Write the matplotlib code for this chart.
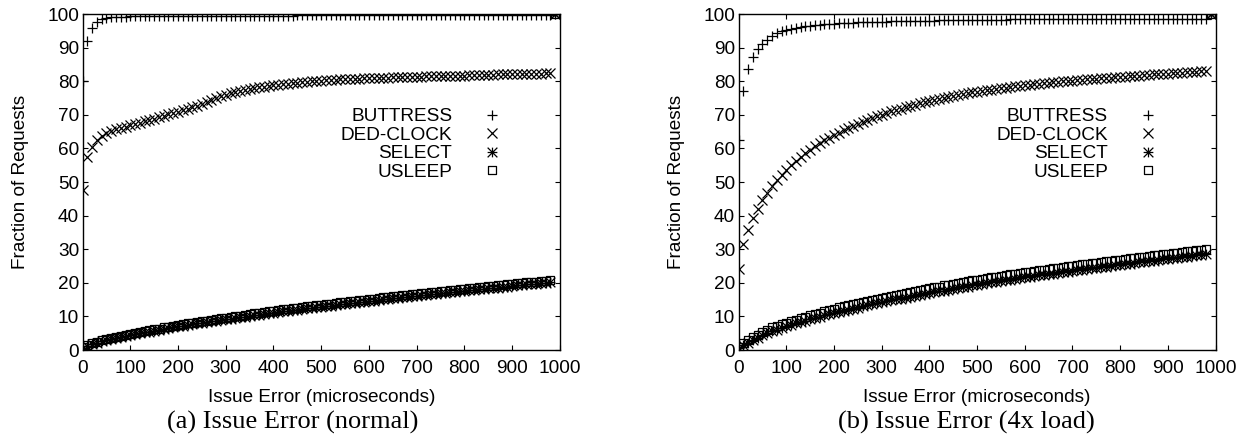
import matplotlib
matplotlib.use('Agg')
import matplotlib.pyplot as plt
from matplotlib.path import Path

plt.rcParams['font.family'] = ['Liberation Sans', 'DejaVu Sans']

# issue error bins (microseconds); last bin holds everything beyond
x_err = list(range(0, 1000, 10))

names = ['BUTTRESS', 'DED-CLOCK', 'SELECT', 'USLEEP']

# (a) normal load
a_buttress = [80.0, 92.0, 95.8, 97.5, 98.4, 98.8, 99.0, 99.1, 99.2, 99.2,
              99.3, 99.3, 99.3, 99.3, 99.4, 99.4, 99.4, 99.4, 99.4, 99.4,
              99.5, 99.5, 99.5, 99.5, 99.5, 99.5, 99.5, 99.5, 99.5, 99.5,
              99.5, 99.5, 99.5, 99.5, 99.5, 99.5, 99.5, 99.5, 99.5, 99.5,
              99.5, 99.5, 99.5, 99.5, 99.5, 99.6, 99.6, 99.6, 99.6, 99.6,
              99.6, 99.6, 99.6, 99.6, 99.6, 99.6, 99.6, 99.6, 99.6, 99.6,
              99.6, 99.6, 99.6, 99.6, 99.6, 99.6, 99.6, 99.6, 99.6, 99.6,
              99.6, 99.6, 99.6, 99.6, 99.6, 99.7, 99.7, 99.7, 99.7, 99.7,
              99.7, 99.7, 99.7, 99.7, 99.7, 99.7, 99.7, 99.7, 99.7, 99.7,
              99.7, 99.7, 99.7, 99.7, 99.7, 99.7, 99.7, 99.7, 99.7, 100.0]
a_dedclock = [47.5, 57.5, 60.5, 62.5, 63.8, 64.6, 65.2, 65.7, 66.1, 66.5,
              66.9, 67.3, 67.7, 68.1, 68.5, 68.9, 69.3, 69.7, 70.1, 70.5,
              70.9, 71.3, 71.7, 72.2, 72.7, 73.2, 73.8, 74.4, 75.0, 75.5,
              76.0, 76.4, 76.8, 77.1, 77.4, 77.7, 78.0, 78.2, 78.4, 78.6,
              78.8, 79.0, 79.2, 79.3, 79.5, 79.6, 79.8, 79.9, 80.0, 80.1,
              80.2, 80.3, 80.4, 80.5, 80.6, 80.6, 80.7, 80.8, 80.8, 80.9,
              80.9, 81.0, 81.0, 81.1, 81.1, 81.2, 81.2, 81.3, 81.3, 81.4,
              81.4, 81.4, 81.5, 81.5, 81.5, 81.6, 81.6, 81.6, 81.7, 81.7,
              81.7, 81.8, 81.8, 81.8, 81.9, 81.9, 81.9, 82.0, 82.0, 82.0,
              82.0, 82.1, 82.1, 82.1, 82.2, 82.2, 82.2, 82.3, 82.3, 100.0]
a_select = [0.5, 1.2, 1.7, 2.2, 2.6, 3.0, 3.3, 3.6, 3.9, 4.2,
            4.5, 4.8, 5.0, 5.3, 5.5, 5.8, 6.0, 6.3, 6.5, 6.8,
            7.0, 7.2, 7.4, 7.6, 7.9, 8.1, 8.3, 8.5, 8.7, 8.9,
            9.1, 9.3, 9.5, 9.7, 9.9, 10.1, 10.3, 10.5, 10.7, 10.9,
            11.1, 11.3, 11.5, 11.6, 11.8, 12.0, 12.2, 12.4, 12.5, 12.7,
            12.9, 13.1, 13.2, 13.4, 13.6, 13.7, 13.9, 14.1, 14.3, 14.4,
            14.6, 14.7, 14.9, 15.1, 15.2, 15.4, 15.5, 15.7, 15.9, 16.0,
            16.2, 16.3, 16.5, 16.6, 16.8, 16.9, 17.1, 17.2, 17.4, 17.5,
            17.7, 17.8, 17.9, 18.1, 18.2, 18.4, 18.5, 18.6, 18.8, 18.9,
            19.1, 19.2, 19.3, 19.5, 19.6, 19.7, 19.9, 20.0, 20.2, 100.0]
a_usleep = [0.8, 1.5, 2.0, 2.5, 2.9, 3.3, 3.6, 3.9, 4.2, 4.5,
            4.8, 5.1, 5.4, 5.6, 5.9, 6.2, 6.4, 6.7, 6.9, 7.2,
            7.4, 7.6, 7.9, 8.1, 8.3, 8.5, 8.7, 9.0, 9.2, 9.4,
            9.6, 9.8, 10.0, 10.2, 10.5, 10.7, 10.9, 11.1, 11.3, 11.5,
            11.7, 11.9, 12.1, 12.2, 12.4, 12.6, 12.8, 13.0, 13.1, 13.3,
            13.5, 13.7, 13.8, 14.0, 14.2, 14.3, 14.5, 14.7, 14.9, 15.0,
            15.2, 15.3, 15.5, 15.7, 15.8, 16.0, 16.1, 16.3, 16.5, 16.6,
            16.8, 16.9, 17.1, 17.2, 17.4, 17.5, 17.7, 17.8, 18.0, 18.1,
            18.3, 18.4, 18.5, 18.7, 18.8, 19.0, 19.1, 19.2, 19.4, 19.5,
            19.7, 19.8, 19.9, 20.1, 20.2, 20.3, 20.5, 20.6, 20.8, 100.0]

# (b) 4x load
b_buttress = [62.5, 77.2, 83.5, 87.2, 89.5, 91.2, 92.4, 93.5, 94.3, 94.9,
              95.3, 95.6, 95.9, 96.1, 96.3, 96.5, 96.6, 96.8, 96.9, 97.0,
              97.1, 97.2, 97.3, 97.3, 97.4, 97.5, 97.5, 97.6, 97.6, 97.7,
              97.7, 97.7, 97.8, 97.8, 97.8, 97.9, 97.9, 97.9, 98.0, 98.0,
              98.0, 98.0, 98.1, 98.1, 98.1, 98.1, 98.2, 98.2, 98.2, 98.2,
              98.2, 98.3, 98.3, 98.3, 98.3, 98.3, 98.3, 98.4, 98.4, 98.4,
              98.4, 98.4, 98.4, 98.4, 98.4, 98.5, 98.5, 98.5, 98.5, 98.5,
              98.5, 98.5, 98.5, 98.5, 98.5, 98.5, 98.5, 98.5, 98.5, 98.5,
              98.5, 98.5, 98.5, 98.5, 98.5, 98.6, 98.6, 98.6, 98.6, 98.6,
              98.6, 98.6, 98.6, 98.6, 98.6, 98.6, 98.6, 98.6, 98.6, 100.0]
b_dedclock = [24.0, 31.5, 35.7, 39.3, 42.0, 44.5, 46.7, 48.7, 50.5, 52.1,
              53.6, 55.0, 56.3, 57.5, 58.6, 59.6, 60.6, 61.5, 62.4, 63.2,
              64.0, 64.7, 65.4, 66.1, 66.7, 67.3, 67.9, 68.5, 69.0, 69.5,
              70.0, 70.5, 71.0, 71.4, 71.8, 72.2, 72.6, 73.0, 73.4, 73.8,
              74.1, 74.4, 74.7, 75.0, 75.3, 75.6, 75.9, 76.2, 76.4, 76.7,
              76.9, 77.1, 77.3, 77.5, 77.7, 77.9, 78.1, 78.3, 78.5, 78.7,
              78.8, 79.0, 79.1, 79.3, 79.4, 79.6, 79.7, 79.8, 80.0, 80.1,
              80.2, 80.3, 80.5, 80.6, 80.7, 80.8, 80.9, 81.0, 81.1, 81.2,
              81.3, 81.4, 81.5, 81.6, 81.7, 81.8, 81.9, 82.0, 82.0, 82.1,
              82.2, 82.3, 82.4, 82.5, 82.6, 82.7, 82.8, 82.9, 83.0, 100.0]
b_select = [0.5, 1.4, 2.2, 3.0, 3.7, 4.4, 5.0, 5.6, 6.1, 6.6,
            7.0, 7.4, 7.9, 8.3, 8.7, 9.1, 9.5, 9.9, 10.3, 10.6,
            11.0, 11.3, 11.7, 12.0, 12.3, 12.6, 13.0, 13.3, 13.6, 13.9,
            14.2, 14.5, 14.8, 15.1, 15.3, 15.6, 15.9, 16.2, 16.4, 16.7,
            17.0, 17.2, 17.5, 17.7, 18.0, 18.2, 18.4, 18.7, 18.9, 19.2,
            19.4, 19.6, 19.8, 20.1, 20.3, 20.5, 20.7, 20.9, 21.2, 21.4,
            21.6, 21.8, 22.0, 22.2, 22.4, 22.6, 22.7, 22.9, 23.1, 23.3,
            23.5, 23.7, 23.9, 24.1, 24.3, 24.4, 24.6, 24.8, 25.0, 25.2,
            25.3, 25.5, 25.7, 25.9, 26.1, 26.3, 26.4, 26.6, 26.8, 27.0,
            27.1, 27.3, 27.5, 27.7, 27.8, 28.0, 28.2, 28.3, 28.5, 100.0]
b_usleep = [1.0, 2.0, 2.9, 3.8, 4.6, 5.3, 6.0, 6.7, 7.2, 7.6,
            8.0, 8.5, 9.0, 9.4, 9.9, 10.3, 10.7, 11.1, 11.5, 11.9,
            12.3, 12.7, 13.0, 13.4, 13.7, 14.0, 14.3, 14.7, 15.0, 15.3,
            15.6, 15.9, 16.2, 16.5, 16.8, 17.0, 17.3, 17.6, 17.9, 18.1,
            18.4, 18.7, 18.9, 19.2, 19.4, 19.7, 19.9, 20.2, 20.4, 20.7,
            20.9, 21.1, 21.4, 21.6, 21.8, 22.0, 22.2, 22.5, 22.7, 22.9,
            23.1, 23.3, 23.5, 23.7, 23.9, 24.1, 24.3, 24.5, 24.7, 24.9,
            25.1, 25.3, 25.5, 25.7, 25.8, 26.0, 26.2, 26.4, 26.6, 26.7,
            26.9, 27.1, 27.3, 27.5, 27.6, 27.8, 28.0, 28.2, 28.3, 28.5,
            28.7, 28.9, 29.0, 29.2, 29.4, 29.5, 29.7, 29.9, 30.1, 100.0]

# gnuplot style point types: +, x, * (plus and x), box with a dot
M, L, C = Path.MOVETO, Path.LINETO, Path.CLOSEPOLY
star = Path([(-1, 0), (1, 0), (0, -1), (0, 1), (-1, -1), (1, 1), (-1, 1), (1, -1)],
            [M, L, M, L, M, L, M, L])
d = 0.07
box = Path([(-1, -1), (1, -1), (1, 1), (-1, 1), (-1, -1),
            (-d, -d), (d, -d), (d, d), (-d, d), (-d, -d)],
           [M, L, L, L, C, M, L, L, L, C])
markers = ['+', 'x', star, box]
msizes = [7.5, 6.8, 7.0, 6.2]

fs = 13.7

fig = plt.figure(figsize=(12.47, 4.38), dpi=100)
ax_a = fig.add_axes([0.0662, 0.2009, 0.3828, 0.7671])
ax_b = fig.add_axes([0.5923, 0.2009, 0.3825, 0.7671])


def draw(ax, series):
    for vals, name, m, s in zip(series, names, markers, msizes):
        ax.plot(x_err, vals, linestyle='none', marker=m, markersize=s,
                markeredgewidth=0.9, markerfacecolor='none',
                markeredgecolor='black', label=name)
    ax.set_xlim(0, 1000)
    ax.set_ylim(0, 100)
    ax.set_xticks(range(0, 1001, 100))
    ax.set_yticks(range(0, 101, 10))
    ax.tick_params(direction='in', length=3.6, width=0.8, top=True, right=True,
                   labelsize=fs)
    ax.tick_params(axis='x', pad=7)
    ax.tick_params(axis='y', pad=2.5)
    for sp in ax.spines.values():
        sp.set_linewidth(1.0)
    ax.set_xlabel('Issue Error (microseconds)', fontsize=fs, labelpad=9)
    ax.set_ylabel('Fraction of Requests', fontsize=fs)
    ax.yaxis.set_label_coords(-0.112, 0.5)
    ax.legend(loc='center right', bbox_to_anchor=(0.878, 0.612), frameon=False,
              markerfirst=False, fontsize=fs, handlelength=1, handletextpad=1.6,
              labelspacing=0.06, borderpad=0, borderaxespad=0)


draw(ax_a, [a_buttress, a_dedclock, a_select, a_usleep])
draw(ax_b, [b_buttress, b_dedclock, b_select, b_usleep])

fig.text(0.235, 0.022, '(a) Issue Error (normal)', ha='center', va='baseline',
         family='Liberation Serif', fontsize=19)
fig.text(0.775, 0.022, '(b) Issue Error (4x load)', ha='center', va='baseline',
         family='Liberation Serif', fontsize=19)

fig.savefig('out.png', dpi=100)
